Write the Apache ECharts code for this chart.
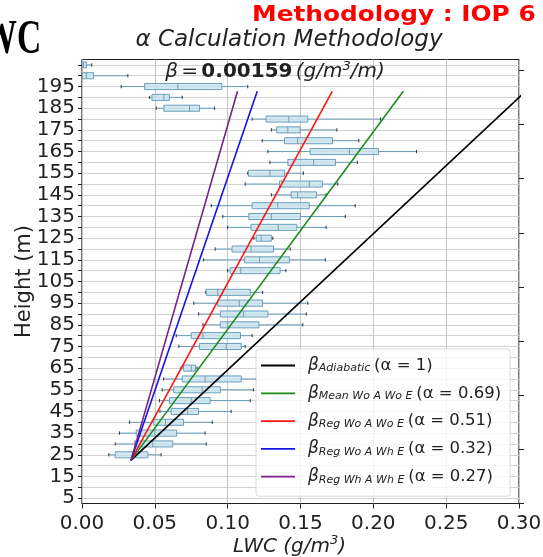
<!DOCTYPE html>
<html>
<head>
<meta charset="utf-8">
<script src="https://cdn.jsdelivr.net/npm/echarts@6/dist/echarts.min.js"></script>
<style>
  html, body { margin: 0; padding: 0; background: #ffffff; }
  #chart { width: 543px; height: 557px; }
</style>
</head>
<body>
<div id="chart"></div>
<script>
// Height levels (m) that carry an LWC distribution
const heights      = [25, 30, 35, 40, 45, 50, 55, 60, 65, 75, 80, 85, 90, 95, 100, 110, 115, 120, 125, 130, 135, 140, 145, 150, 155, 160, 165, 170, 175, 180, 185, 190, 195, 200, 205];
// Box statistics per level (g/m3): lower whisker, Q1, median, Q3, upper whisker
const whiskerLow   = [0.0184, 0.0228, 0.0257, 0.0326, 0.0535, 0.0532, 0.0550, 0.0560, 0.0680, 0.0665, 0.0647, 0.0830, 0.0800, 0.0767, 0.0850, 0.1000, 0.0834, 0.0914, 0.1180, 0.1000, 0.0967, 0.0887, 0.1300, 0.1120, 0.1138, 0.1290, 0.1276, 0.1237, 0.1300, 0.1168, 0.0510, 0.0463, 0.0269, 0.0000, 0.0000];
const quartile1    = [0.0228, 0.0360, 0.0372, 0.0493, 0.0612, 0.0600, 0.0630, 0.0688, 0.0697, 0.0807, 0.0750, 0.0949, 0.0950, 0.0932, 0.0853, 0.1017, 0.1116, 0.1030, 0.1196, 0.1160, 0.1145, 0.1168, 0.1436, 0.1356, 0.1143, 0.1413, 0.1566, 0.1390, 0.1337, 0.1264, 0.0562, 0.0480, 0.0430, 0.0000, 0.0000];
const medians      = [0.0349, 0.0486, 0.0500, 0.0573, 0.0726, 0.0750, 0.0825, 0.0845, 0.0750, 0.0990, 0.0830, 0.1000, 0.1110, 0.1080, 0.0932, 0.1090, 0.1218, 0.1160, 0.1230, 0.1347, 0.1300, 0.1344, 0.1480, 0.1560, 0.1290, 0.1590, 0.1836, 0.1480, 0.1413, 0.1420, 0.0738, 0.0562, 0.0658, 0.0030, 0.0010];
const quartile3    = [0.0452, 0.0623, 0.0650, 0.0697, 0.0800, 0.0880, 0.0950, 0.1093, 0.0780, 0.1093, 0.1088, 0.1214, 0.1276, 0.1240, 0.1155, 0.1360, 0.1424, 0.1315, 0.1300, 0.1475, 0.1500, 0.1560, 0.1610, 0.1650, 0.1390, 0.1740, 0.2035, 0.1720, 0.1498, 0.1550, 0.0807, 0.0600, 0.0960, 0.0080, 0.0030];
const whiskerHigh  = [0.0543, 0.0853, 0.0845, 0.0894, 0.1024, 0.1155, 0.1177, 0.1196, 0.0790, 0.1120, 0.1168, 0.1516, 0.1540, 0.1550, 0.1240, 0.1400, 0.1670, 0.1430, 0.1310, 0.1676, 0.1807, 0.1875, 0.1676, 0.1756, 0.1520, 0.1890, 0.2296, 0.1900, 0.1750, 0.2050, 0.0910, 0.0688, 0.1138, 0.0315, 0.0067];

// Axis ticks
const yTickValues  = [5, 10, 15, 20, 25, 30, 35, 40, 45, 50, 55, 60, 65, 70, 75, 80, 85, 90, 95, 100, 105, 110, 115, 120, 125, 130, 135, 140, 145, 150, 155, 160, 165, 170, 175, 180, 185, 190, 195, 200, 205];
const yLabelValues = [5, 15, 25, 35, 45, 55, 65, 75, 85, 95, 105, 115, 125, 135, 145, 155, 165, 175, 185, 195];
const rightTickValues = [2.5, 27.5, 52.5, 77.5, 102.5, 127.5, 152.5, 177.5, 202.5];

// Adiabatic gradient and the alpha factors of each method
const betaAdiabatic = 0.00159;           // g/m3 per m
const alphas     = [1, 0.69, 0.51, 0.32, 0.27];
const methodKeys = ['Adiabatic', 'Mean Wo A Wo E', 'Reg Wo A Wo E', 'Reg Wo A Wh E', 'Reg Wh A Wh E'];
const methodColors = ['#000000', '#1a8a1a', '#ff1414', '#1414e6', '#7a1f8a'];
const baseLWC    = 0.0336;               // LWC at cloud base (g/m3)
const baseHeight = 22.4;                 // cloud base (m)
const topHeight  = 192.8;                // top of the profile lines (m)

const boxRows = heights.map((h, i) => [h, whiskerLow[i], quartile1[i], medians[i], quartile3[i], whiskerHigh[i]]);

const FONT = 'DejaVu Sans';
const INK = '#222222';

function renderBox(params, api) {
  const h = api.value(0);
  const pLo  = api.coord([api.value(1), h]);
  const pQ1  = api.coord([api.value(2), h]);
  const pMed = api.coord([api.value(3), h]);
  const pQ3  = api.coord([api.value(4), h]);
  const pHi  = api.coord([api.value(5), h]);
  const y = pLo[1];
  const hb = Math.abs(api.size([0, 1.4])[1]);
  const hc = hb * 0.55;
  const edge = '#6a9fbd';
  return {
    type: 'group',
    children: [
      { type: 'line', shape: { x1: pLo[0], y1: y, x2: pQ1[0], y2: y }, style: { stroke: edge, lineWidth: 1 } },
      { type: 'line', shape: { x1: pQ3[0], y1: y, x2: pHi[0], y2: y }, style: { stroke: edge, lineWidth: 1 } },
      { type: 'line', shape: { x1: pLo[0], y1: y - hc, x2: pLo[0], y2: y + hc }, style: { stroke: '#333333', lineWidth: 1 } },
      { type: 'line', shape: { x1: pHi[0], y1: y - hc, x2: pHi[0], y2: y + hc }, style: { stroke: '#333333', lineWidth: 1 } },
      { type: 'rect', shape: { x: pQ1[0], y: y - hb, width: pQ3[0] - pQ1[0], height: 2 * hb }, style: { fill: 'rgba(195,224,235,0.75)', stroke: edge, lineWidth: 1 } },
      { type: 'line', shape: { x1: pMed[0], y1: y - hb, x2: pMed[0], y2: y + hb }, style: { stroke: '#7f9aa0', lineWidth: 1 } }
    ]
  };
}

const lineSeries = methodKeys.map((key, i) => ({
  type: 'line',
  name: key,
  symbol: 'none',
  clip: true,
  z: 5,
  lineStyle: { color: methodColors[i], width: 1.6 },
  itemStyle: { color: methodColors[i] },
  data: [
    [baseLWC, baseHeight],
    [baseLWC + alphas[i] * betaAdiabatic * (topHeight - baseHeight), topHeight]
  ]
}));

const chart = echarts.init(document.getElementById('chart'), null, { renderer: 'canvas' });

chart.setOption({
  animation: false,
  backgroundColor: '#ffffff',
  textStyle: { fontFamily: FONT },
  grid: {
    left: 82, right: 24, top: 59.5, bottom: 53.5,
    outerBoundsMode: 'none',
    containLabel: false,
    show: true, borderColor: INK, borderWidth: 1.2, backgroundColor: 'transparent'
  },
  xAxis: {
    type: 'value', min: 0, max: 0.30, interval: 0.05,
    axisLine: { show: false },
    axisTick: { show: true, inside: false, length: 5, lineStyle: { color: INK } },
    axisLabel: { fontSize: 20, color: INK, margin: 10, fontFamily: FONT, formatter: v => v.toFixed(2) },
    splitLine: { show: true, lineStyle: { color: '#c4c4c4', width: 1 } },
    name: '{it|LWC (g/m}{sup|3}{it|)}',
    nameLocation: 'middle', nameGap: 31, nameMoveOverlap: false,
    nameTextStyle: {
      padding: [0, 22, 0, 0],
      rich: {
        it: { fontSize: 20, fontStyle: 'italic', color: INK, fontFamily: FONT, lineHeight: 24 },
        sup: { fontSize: 13, fontStyle: 'italic', color: INK, fontFamily: FONT, verticalAlign: 'top', lineHeight: 24 }
      }
    }
  },
  yAxis: [{
    type: 'value', min: 2.5, max: 207.5,
    axisLine: { show: false },
    axisTick: { show: true, length: 4, customValues: yTickValues, lineStyle: { color: INK } },
    axisLabel: { fontSize: 20, color: INK, margin: 7, fontFamily: FONT, customValues: yLabelValues },
    splitLine: { show: true, lineStyle: { color: '#d2d2d2', width: 1 } },
    name: 'Height (m)', nameLocation: 'middle', nameGap: 47, nameRotate: 90, nameMoveOverlap: false,
    nameTextStyle: { fontSize: 21, color: INK, fontFamily: FONT }
  }, {
    type: 'value', min: 2.5, max: 207.5, position: 'right',
    axisLine: { show: false },
    axisTick: { show: true, length: 5, customValues: rightTickValues, lineStyle: { color: INK } },
    axisLabel: { show: false },
    splitLine: { show: false }
  }],
  legend: {
    orient: 'vertical',
    left: 256, top: 349,
    icon: 'rect',
    itemWidth: 34, itemHeight: 1.8, itemGap: 10.8,
    padding: [8, 9, 11, 5],
    backgroundColor: 'rgba(255,255,255,0.82)',
    borderColor: '#d8d8d8', borderWidth: 1, borderRadius: 3,
    data: methodKeys,
    formatter: name => {
      const i = methodKeys.indexOf(name);
      return '{b|β}{s|' + name + '} {t|(α = ' + alphas[i] + ')}';
    },
    textStyle: {
      rich: {
        b: { fontSize: 17, fontStyle: 'italic', color: INK, fontFamily: FONT, padding: [0, 0, 0, 8] },
        s: { fontSize: 11, fontStyle: 'italic', color: INK, fontFamily: FONT, verticalAlign: 'bottom' },
        t: { fontSize: 16.5, color: INK, fontFamily: FONT }
      }
    }
  },
  graphic: [
    {
      type: 'text', left: -36, top: 17, z: 10,
      scaleX: 0.7,
      style: { text: 'LWC', font: 'bold 48px "Liberation Serif", "DejaVu Serif", serif', fill: '#000000' }
    },
    {
      type: 'text', x: 252, y: 16, z: 10,
      scaleX: 1.18,
      style: { text: 'Methodology : IOP 6', font: 'bold 21px "DejaVu Sans"', fill: '#ff0000', verticalAlign: 'middle', align: 'left' }
    },
    {
      type: 'text', x: 289, y: 40, z: 10,
      style: { text: 'α Calculation Methodology', font: 'italic 23px "DejaVu Sans"', fill: INK, align: 'center', verticalAlign: 'middle' }
    },
    {
      type: 'text', x: 275, y: 72, z: 10,
      style: {
        text: '{i|β} {n|=} {b|0.00159} {i|(g/m}{p|3}{i|/m)}',
        align: 'center', verticalAlign: 'middle',
        rich: {
          i: { fontSize: 20, fontStyle: 'italic', fontFamily: FONT, fill: INK, lineHeight: 24 },
          n: { fontSize: 20, fontFamily: FONT, fill: INK, lineHeight: 24 },
          b: { fontSize: 20, fontWeight: 'bold', fontFamily: FONT, fill: INK, lineHeight: 24 },
          p: { fontSize: 13, fontStyle: 'italic', fontFamily: FONT, fill: INK, verticalAlign: 'top', lineHeight: 24 }
        }
      }
    }
  ],
  series: [
    {
      type: 'custom',
      name: 'profiles',
      renderItem: renderBox,
      encode: { x: [1, 2, 3, 4, 5], y: 0 },
      data: boxRows,
      clip: true,
      z: 3
    }
  ].concat(lineSeries)
});
</script>
</body>
</html>
